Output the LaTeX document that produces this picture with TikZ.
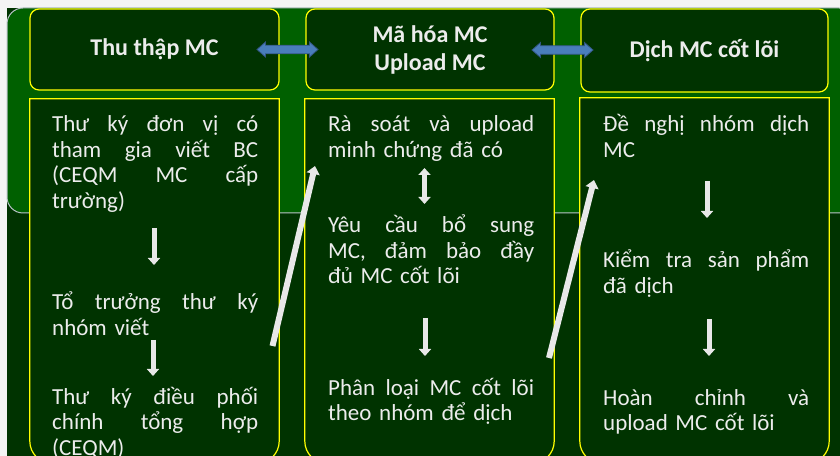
\documentclass[tikz,border=0pt]{standalone}
\usepackage{fontspec}
\setmainfont{Carlito}
\usetikzlibrary{arrows.meta}
\definecolor{pagebg}{RGB}{244,244,244}
\definecolor{darkg}{RGB}{0,51,0}
\definecolor{lightg}{RGB}{0,96,0}
\definecolor{edgeg}{RGB}{185,195,200}
\definecolor{boxline}{RGB}{255,255,0}
\definecolor{txt}{RGB}{236,236,236}
\definecolor{bluefill}{RGB}{74,126,187}
\definecolor{blueline}{RGB}{50,85,130}
\definecolor{wfill}{RGB}{232,232,232}
\newdimen\twd \twd=206bp
\newcommand\jl[1]{\leavevmode\hbox to \twd{\spaceskip=0.22em plus 1fill\relax\xspaceskip=\spaceskip #1}}
\tikzset{
  topbox/.style={draw=boxline, line width=1.2bp, fill=darkg, rounded corners=9bp,
    text=txt, align=center, inner sep=0pt,
    font=\fontsize{24bp}{28bp}\selectfont\bfseries},
  botbox/.style={draw=none, inner sep=0pt, minimum width=249bp},
  botline/.style={draw=boxline, line width=1.2bp, fill=darkg},
  para/.style={text=txt, text width=206bp, align=left, inner sep=0pt, anchor=base west,
    font=\fontsize{23bp}{25.5bp}\selectfont},
  bluearr/.style={draw=blueline, fill=bluefill, line width=0.8bp, line join=miter},
  warrow/.style={draw=wfill, line width=5bp, -{Triangle[width=12bp,length=7bp]}},
  wdarrow/.style={draw=wfill, line width=5bp, {Triangle[width=12bp,length=7bp]}-{Triangle[width=12bp,length=7bp]}},
  diagarrow/.style={draw=wfill, line width=6bp, -{Triangle[width=13bp,length=8bp]}},
}
\begin{document}
\begin{tikzpicture}[x=1bp,y=-1bp]
\useasboundingbox (0,0) rectangle (840,456);
\clip (0,0) rectangle (840,456);
\fill[pagebg] (0,0) rectangle (840,456);
\fill[darkg] (7,8) rectangle (840,456);
\draw[edgeg, line width=1bp, fill=lightg, rounded corners=16bp] (7,8) rectangle (855,213);

% top boxes
\node[topbox, minimum width=249bp, minimum height=81bp] (t1) at (154.5,49.5) {Thu thập MC};
\node[topbox, minimum width=248bp, minimum height=81bp] (t2) at (430,49.5) {Mã hóa MC\\Upload MC};
\node[topbox, minimum width=247bp, minimum height=83bp] (t3) at (704.5,50.5) {Dịch MC cốt lõi};

% bottom boxes
\node[botbox, minimum height=364bp] (b1) at (154.5,281) {};
\node[botbox, minimum height=364bp] (b2) at (429.5,281) {};
\node[botbox, minimum height=365bp] (b3) at (704.5,280.5) {};
\foreach \b in {b1,b2,b3}{
  \draw[botline] (\b.north west) [rounded corners=22bp] -- (\b.south west) -- (\b.south east) [sharp corners] -- (\b.north east) -- cycle;
}

% blue double arrows
\coordinate (ba1) at (287.5,49.5);
\coordinate (ba2) at (562.5,50);
\foreach \c in {ba1,ba2}{
  \draw[bluearr] (\c) ++(-30.5,0) -- ++(8.5,-7.5) -- ++(0,3.2) -- ++(44,0) -- ++(0,-3.2) -- ++(8.5,7.5)
     -- ++(-8.5,7.5) -- ++(0,-3.2) -- ++(-44,0) -- ++(0,3.2) -- cycle;
}

% texts column 1
\node[para] (p11) at (52,132) {\jl{Thư ký đơn vị có}\\\jl{tham gia viết BC}\\\jl{(CEQM MC cấp}\\trường)};
\node[para] (p12) at (52,310) {\jl{Tổ trưởng thư ký}\\nhóm viết};
\node[para] (p13) at (52,404) {\jl{Thư ký điều phối}\\\jl{chính tổng hợp}\\(CEQM)};
% column 2
\node[para] (p21) at (328,132) {\jl{Rà soát và upload}\\minh chứng đã có};
\node[para] (p22) at (328,233) {\jl{Yêu cầu bổ sung}\\\jl{MC, đảm bảo đầy}\\đủ MC cốt lõi};
\node[para] (p23) at (328,395) {\jl{Phân loại MC cốt lõi}\\theo nhóm để dịch};
% column 3
\node[para] (p31) at (603,132) {\jl{Đề nghị nhóm dịch}\\MC};
\node[para] (p32) at (603,268) {\jl{Kiểm tra sản phẩm}\\đã dịch};
\node[para] (p33) at (603,405) {\jl{Hoàn chỉnh và}\\upload MC cốt lõi};

% white arrows
\coordinate (a1s) at (154,228); \coordinate (a1e) at (154,265);
\coordinate (a2s) at (153,340); \coordinate (a2e) at (153,376);
\coordinate (a3s) at (424.5,168); \coordinate (a3e) at (424.5,204);
\coordinate (a4s) at (425,318); \coordinate (a4e) at (425,356);
\coordinate (a5s) at (707,181); \coordinate (a5e) at (707,218);
\coordinate (a6s) at (709,319); \coordinate (a6e) at (709,356);
\draw[warrow] (a1s) -- (a1e);
\draw[warrow] (a2s) -- (a2e);
\draw[wdarrow] (a3s) -- (a3e);
\draw[warrow] (a4s) -- (a4e);
\draw[warrow] (a5s) -- (a5e);
\draw[warrow] (a6s) -- (a6e);
\coordinate (d1s) at (272.5,346); \coordinate (d1e) at (315,166);
\coordinate (d2s) at (549,358); \coordinate (d2e) at (594,180);
\draw[diagarrow] (d1s) -- (d1e);
\draw[diagarrow] (d2s) -- (d2e);
\end{tikzpicture}
\end{document}
